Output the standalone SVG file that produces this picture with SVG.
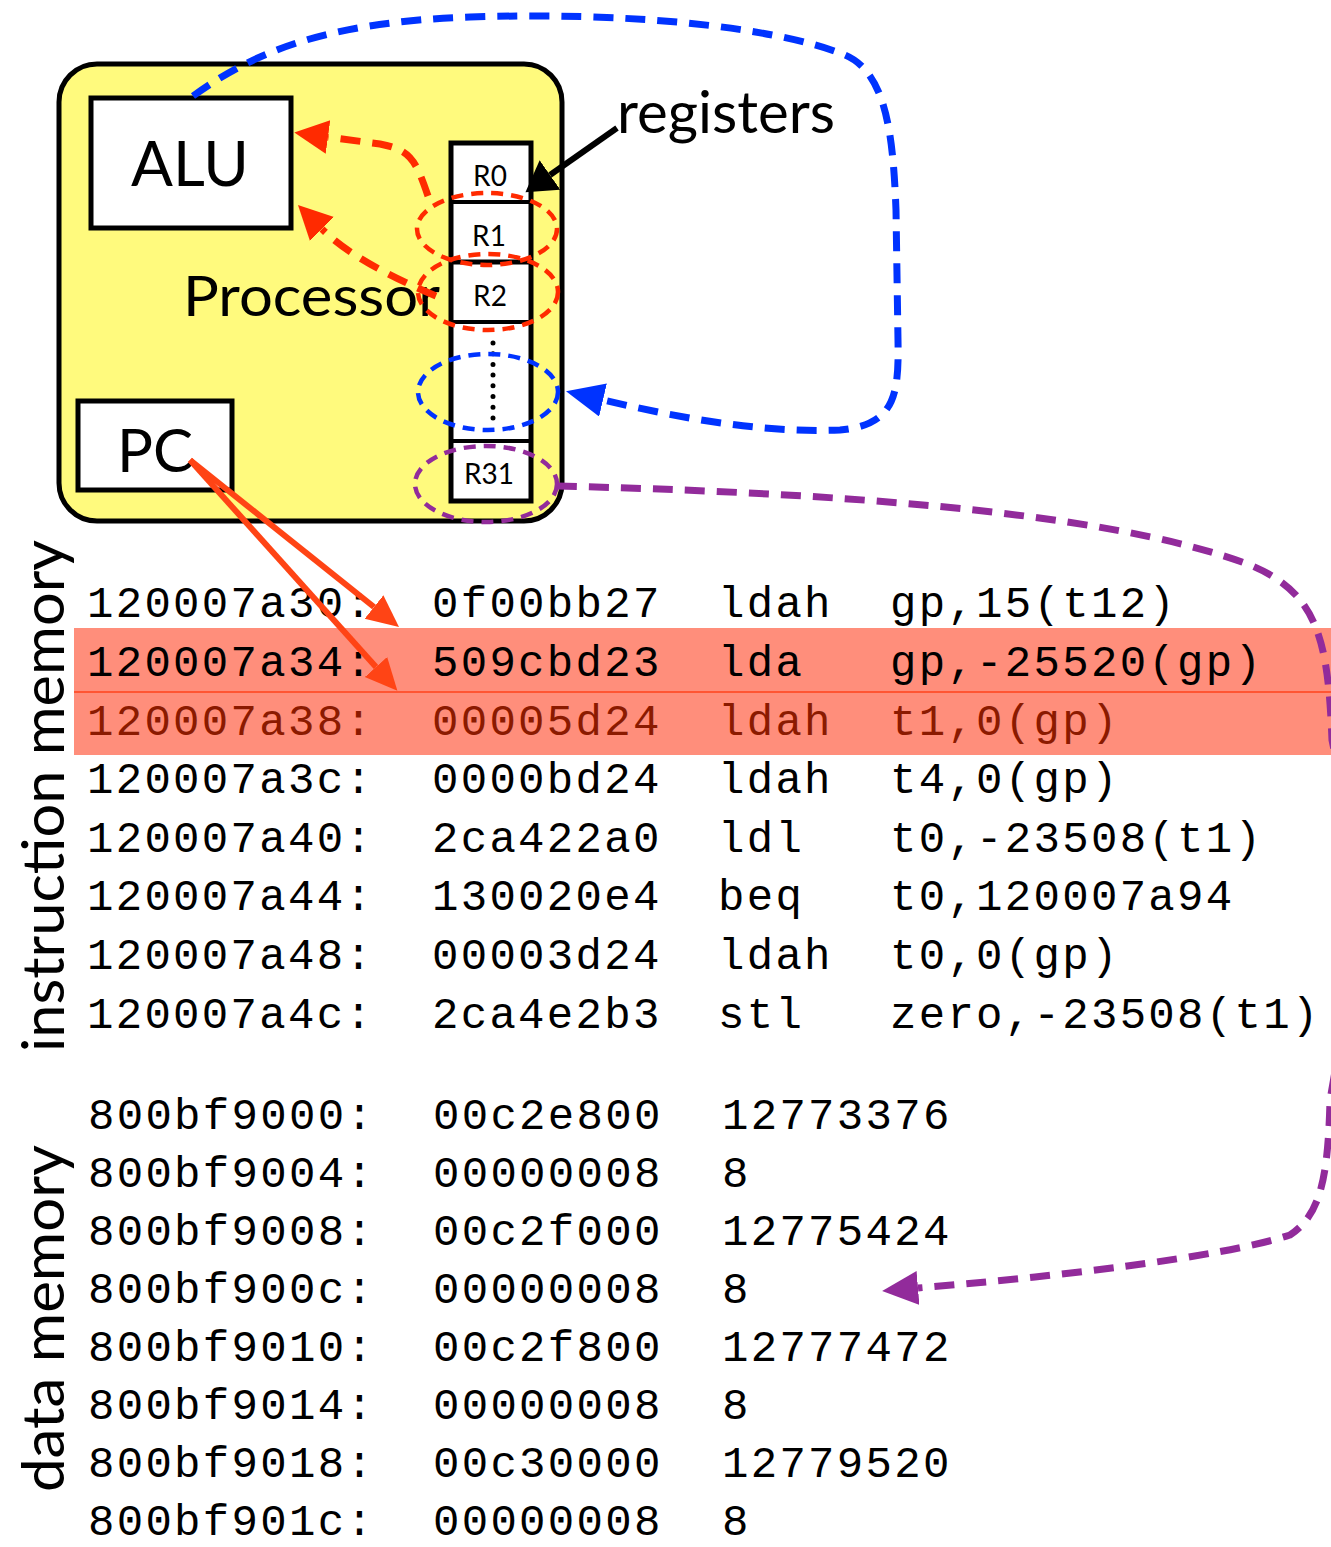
<svg xmlns="http://www.w3.org/2000/svg" width="1331" height="1547" viewBox="0 0 1331 1547">
<style>
.box{fill:#fff;stroke:#000;stroke-width:5}
.lbl{font-family:Lato,"Open Sans","Liberation Sans",sans-serif;fill:#000}
.reg{font-family:Lato,"Liberation Sans",sans-serif;font-size:28px;text-anchor:middle;fill:#000}
.mono{font-family:"Liberation Mono","DejaVu Sans Mono",monospace;font-size:44px;letter-spacing:2.3px;fill:#000}
.ell{fill:none;stroke-width:4.5;stroke-dasharray:12 8}
.dash{fill:none;stroke-width:7;stroke-dasharray:20 12}
</style>
<defs>
<marker id="ahRed" markerUnits="userSpaceOnUse" markerWidth="40" markerHeight="40" refX="0" refY="17" orient="auto"><path d="M0,0 L34,17 L0,34 z" fill="#FF2A00"/></marker>
<marker id="ahBlue" markerUnits="userSpaceOnUse" markerWidth="44" markerHeight="40" refX="0" refY="17" orient="auto"><path d="M0,0 L38,17 L0,34 z" fill="#0033FF"/></marker>
<marker id="ahPurple" markerUnits="userSpaceOnUse" markerWidth="44" markerHeight="40" refX="0" refY="17" orient="auto"><path d="M0,0 L36,17 L0,34 z" fill="#922B9B"/></marker>
<marker id="ahOrange" markerUnits="userSpaceOnUse" markerWidth="40" markerHeight="34" refX="0" refY="15" orient="auto"><path d="M0,0 L32,15 L0,30 z" fill="#FF4415"/></marker>
<marker id="ahBlack" markerUnits="userSpaceOnUse" markerWidth="40" markerHeight="40" refX="0" refY="18" orient="auto"><path d="M0,0 L30,18 L0,36 z" fill="#000"/></marker>
</defs>

<g id="processor">
<rect x="59" y="64" width="503" height="457" rx="38" ry="38" fill="#FFFA7D" stroke="#000" stroke-width="5"/>
<text class="lbl" x="183" y="316" font-size="57" textLength="257" lengthAdjust="spacingAndGlyphs">Processor</text>
</g>
<g id="alu">
<rect class="box" x="91" y="98" width="200" height="130"/>
<text class="lbl" x="190" y="186" font-size="62" text-anchor="middle">ALU</text>
</g>
<g id="pc">
<rect class="box" x="78" y="401" width="154" height="89"/>
<text class="lbl" x="117" y="472" font-size="60">PC</text>
</g>
<g id="registers">
<rect class="box" x="451" y="143" width="80" height="358"/>
<line x1="451" y1="202" x2="531" y2="202" stroke="#000" stroke-width="4"/>
<line x1="451" y1="262" x2="531" y2="262" stroke="#000" stroke-width="5"/>
<line x1="451" y1="322" x2="531" y2="322" stroke="#000" stroke-width="4"/>
<line x1="451" y1="441" x2="531" y2="441" stroke="#000" stroke-width="4"/>
<text class="reg" x="490" y="186">R0</text>
<text class="reg" x="489" y="246">R1</text>
<text class="reg" x="490" y="306">R2</text>
<text class="reg" x="489" y="484">R31</text>
<line x1="493" y1="343" x2="493" y2="418" stroke="#000" stroke-width="5" stroke-linecap="round" stroke-dasharray="0 10.7"/>
</g>
<g id="registers-label">
<text class="lbl" x="617" y="133" font-size="59" textLength="218" lengthAdjust="spacingAndGlyphs">registers</text>
</g>
<g id="highlights">
<ellipse class="ell" cx="487" cy="229" rx="70" ry="36" stroke="#FF2A00"/>
<ellipse class="ell" cx="488" cy="292" rx="70" ry="38" stroke="#FF2A00"/>
<ellipse class="ell" cx="488" cy="392" rx="70" ry="38" stroke="#0033FF"/>
<ellipse class="ell" cx="486" cy="484" rx="71" ry="38" stroke="#922B9B"/>
</g>

<g id="instruction-memory">
<rect x="74" y="628" width="1257" height="127" fill="#FF8E7B"/>
<line x1="74" y1="692" x2="1331" y2="692" stroke="#FF5533" stroke-width="2"/>
<text class="lbl" transform="translate(64,1052) rotate(-90)" font-size="58" textLength="512" lengthAdjust="spacingAndGlyphs">instruction memory</text>
<g class="mono">
<text y="617"><tspan x="87">120007a30:</tspan><tspan x="432">0f00bb27</tspan><tspan x="718">ldah</tspan><tspan x="890">gp,15(t12)</tspan></text>
<text y="676"><tspan x="87">120007a34:</tspan><tspan x="432">509cbd23</tspan><tspan x="718">lda</tspan><tspan x="890">gp,-25520(gp)</tspan></text>
<text y="735" fill="#8B1A00"><tspan x="87">120007a38:</tspan><tspan x="432">00005d24</tspan><tspan x="718">ldah</tspan><tspan x="890">t1,0(gp)</tspan></text>
<text y="793"><tspan x="87">120007a3c:</tspan><tspan x="432">0000bd24</tspan><tspan x="718">ldah</tspan><tspan x="890">t4,0(gp)</tspan></text>
<text y="852"><tspan x="87">120007a40:</tspan><tspan x="432">2ca422a0</tspan><tspan x="718">ldl</tspan><tspan x="890">t0,-23508(t1)</tspan></text>
<text y="910"><tspan x="87">120007a44:</tspan><tspan x="432">130020e4</tspan><tspan x="718">beq</tspan><tspan x="890">t0,120007a94</tspan></text>
<text y="969"><tspan x="87">120007a48:</tspan><tspan x="432">00003d24</tspan><tspan x="718">ldah</tspan><tspan x="890">t0,0(gp)</tspan></text>
<text y="1028"><tspan x="87">120007a4c:</tspan><tspan x="432">2ca4e2b3</tspan><tspan x="718">stl</tspan><tspan x="890">zero,-23508(t1)</tspan></text>
</g>
</g>

<g id="data-memory">
<text class="lbl" transform="translate(64,1492) rotate(-90)" font-size="58" textLength="347" lengthAdjust="spacingAndGlyphs">data memory</text>
<g class="mono">
<text y="1129"><tspan x="88">800bf9000:</tspan><tspan x="433">00c2e800</tspan><tspan x="722">12773376</tspan></text>
<text y="1187"><tspan x="88">800bf9004:</tspan><tspan x="433">00000008</tspan><tspan x="722">8</tspan></text>
<text y="1245"><tspan x="88">800bf9008:</tspan><tspan x="433">00c2f000</tspan><tspan x="722">12775424</tspan></text>
<text y="1303"><tspan x="88">800bf900c:</tspan><tspan x="433">00000008</tspan><tspan x="722">8</tspan></text>
<text y="1361"><tspan x="88">800bf9010:</tspan><tspan x="433">00c2f800</tspan><tspan x="722">12777472</tspan></text>
<text y="1419"><tspan x="88">800bf9014:</tspan><tspan x="433">00000008</tspan><tspan x="722">8</tspan></text>
<text y="1477"><tspan x="88">800bf9018:</tspan><tspan x="433">00c30000</tspan><tspan x="722">12779520</tspan></text>
<text y="1535"><tspan x="88">800bf901c:</tspan><tspan x="433">00000008</tspan><tspan x="722">8</tspan></text>
</g>
</g>

<g id="connectors">
<path class="dash" stroke="#FF2A00" d="M428,196 C415,158 410,150 380,144 L328,137" marker-end="url(#ahRed)"/>
<path class="dash" stroke="#FF2A00" d="M436,296 Q355,262 322,229" marker-end="url(#ahRed)"/>
<path class="dash" stroke="#0033FF" d="M193,96 C250,55 320,22 470,17 C620,12 770,25 845,55 C885,72 893,130 896,210 L898,340 C899,395 895,425 840,430 C760,433 680,418 603,400" marker-end="url(#ahBlue)"/>
<path class="dash" stroke="#922B9B" stroke-width="6" stroke-dasharray="18 12" d="M557,486 C800,492 1100,508 1250,565 C1318,593 1328,640 1332,740 L1365,900 L1330,1100 C1328,1180 1320,1215 1290,1235 C1220,1258 1050,1277 918,1288" marker-end="url(#ahPurple)"/>
<line x1="617" y1="128" x2="550" y2="175" stroke="#000" stroke-width="6" marker-end="url(#ahBlack)"/>
<line x1="190" y1="460" x2="374" y2="607" stroke="#FF4415" stroke-width="6" marker-end="url(#ahOrange)"/>
<line x1="190" y1="460" x2="376" y2="667" stroke="#FF4415" stroke-width="6" marker-end="url(#ahOrange)"/>
</g>
</svg>
